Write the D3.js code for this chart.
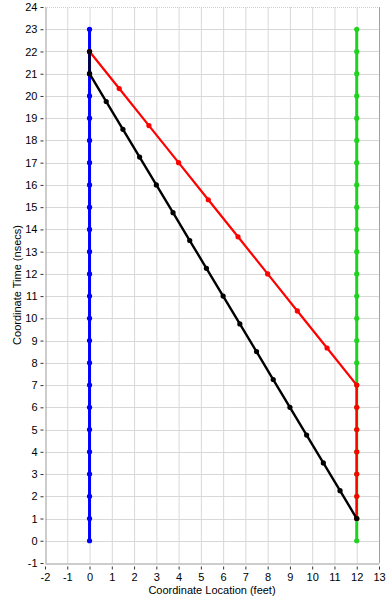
<!DOCTYPE html>
<html><head><meta charset="utf-8">
<script src="https://cdn.jsdelivr.net/npm/d3@7"></script>
<style>body{margin:0;background:#fff}svg{display:block}text{font-family:"Liberation Sans",Arial,sans-serif;font-size:11px;fill:#000}</style>
</head><body><svg id="c" width="390" height="600"></svg>
<script>
const xTicks = [-2,-1,0,1,2,3,4,5,6,7,8,9,10,11,12,13];
const yTicks = [-1,0,1,2,3,4,5,6,7,8,9,10,11,12,13,14,15,16,17,18,19,20,21,22,23,24];
const blueX = [0,0,0,0,0,0,0,0,0,0,0,0,0,0,0,0,0,0,0,0,0,0,0,0];
const blueY = [0,1,2,3,4,5,6,7,8,9,10,11,12,13,14,15,16,17,18,19,20,21,22,23];
const greenX = [12,12,12,12,12,12,12,12,12,12,12,12,12,12,12,12,12,12,12,12,12,12,12,12];
const greenY = [0,1,2,3,4,5,6,7,8,9,10,11,12,13,14,15,16,17,18,19,20,21,22,23];
const redX = [0,1.333,2.667,4,5.333,6.667,8,9.333,10.667,12,12,12,12,12,12,12];
const redY = [22,20.333,18.667,17,15.333,13.667,12,10.333,8.667,7,6,5,4,3,2,1];
const blackX = [0,0,0.75,1.5,2.25,3,3.75,4.5,5.25,6,6.75,7.5,8.25,9,9.75,10.5,11.25,12];
const blackY = [22,21,19.75,18.5,17.25,16,14.75,13.5,12.25,11,9.75,8.5,7.25,6,4.75,3.5,2.25,1];

const L=45,R=379,T=7,B=563;
const x=d3.scaleLinear().domain([-2,13]).range([L,R]);
const y=d3.scaleLinear().domain([-1,24]).range([B,T]);
const svg=d3.select("#c");

// grid
svg.append("g").selectAll("line").data(xTicks.slice(1,-1)).join("line")
 .attr("x1",d=>x(d)+0.5).attr("x2",d=>x(d)+0.5).attr("y1",T).attr("y2",B)
 .attr("stroke","#d8d8d8").attr("stroke-width",1);
svg.append("g").selectAll("line").data(yTicks.slice(1,-1)).join("line")
 .attr("y1",d=>Math.round(y(d))+0.5).attr("y2",d=>Math.round(y(d))+0.5).attr("x1",L).attr("x2",R)
 .attr("stroke","#d8d8d8").attr("stroke-width",1);
// top border dotted, right border
svg.append("line").attr("x1",L).attr("x2",R).attr("y1",T+0.5).attr("y2",T+0.5).attr("stroke","#cfcfcf").attr("stroke-dasharray","1,1");
svg.append("line").attr("x1",R+0.5).attr("x2",R+0.5).attr("y1",T).attr("y2",B).attr("stroke","#a0a0a0");

// axes
const xa=svg.append("g").attr("transform",`translate(0,${B+0.5})`)
 .call(d3.axisBottom(x).tickValues(xTicks).tickSize(0).tickPadding(10).tickFormat(d=>String(d)));
xa.select(".domain").attr("stroke","#999");
xa.selectAll(".tick").append("line").attr("y1",3).attr("y2",6).attr("stroke","#333");
const ya=svg.append("g").attr("transform",`translate(${L+0.5},0)`)
 .call(d3.axisLeft(y).tickValues(yTicks).tickSize(0).tickPadding(8).tickFormat(d=>String(d)));
ya.select(".domain").attr("stroke","#999");
ya.selectAll(".tick").append("line").attr("x1",-2).attr("x2",-5).attr("stroke","#333");
svg.selectAll(".tick text").style("font-family","Liberation Sans, Arial, sans-serif").style("font-size","11px").attr("fill","#000");

svg.append("text").attr("x",(L+R)/2).attr("y",594).attr("text-anchor","middle").text("Coordinate Location (feet)");
svg.append("text").attr("transform",`translate(21,${(T+B)/2}) rotate(-90)`).attr("text-anchor","middle").text("Coordinate Time (nsecs)");

function series(xs,ys,color,w){
  const pts=xs.map((v,i)=>[v,ys[i]]);
  svg.append("path").datum(pts).attr("fill","none").attr("stroke",color).attr("stroke-width",w)
   .attr("d",d3.line().x(d=>x(d[0])).y(d=>y(d[1])));
  svg.append("g").selectAll("circle").data(pts).join("circle")
   .attr("cx",d=>x(d[0])).attr("cy",d=>y(d[1])).attr("r",2.6).attr("fill",color);
}
series(blueX,blueY,"#0000ff",3);
series(greenX,greenY,"#1ed21e",3);
series(redX,redY,"#ff0000",2.2);
series(blackX,blackY,"#000000",2.4);
</script></body></html>
